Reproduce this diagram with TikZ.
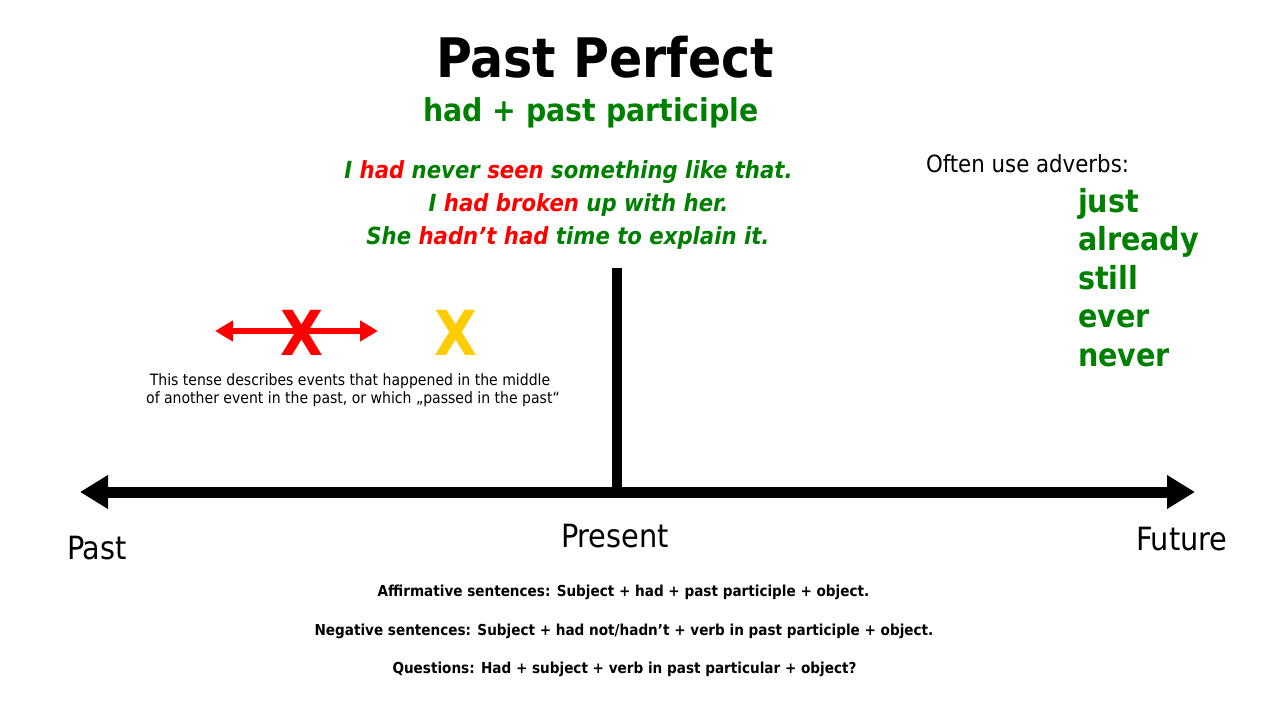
\documentclass[tikz,border=0pt]{standalone}
\usepackage{fontspec}
\setmainfont{DejaVu Sans}
\newfontfamily\cond{DejaVu Sans Condensed}
\usetikzlibrary{arrows.meta}
\definecolor{ppgreen}{RGB}{0,128,0}
\definecolor{ppred}{RGB}{255,0,0}
\definecolor{ppyellow}{RGB}{255,204,0}
\newcommand{\fsz}[1]{\fontsize{#1}{#1}\selectfont}
\tikzset{
  txt/.style={inner sep=0pt, outer sep=0pt, anchor=base},
  txtl/.style={inner sep=0pt, outer sep=0pt, anchor=base west},
  ex/.style={txt, font=\cond\bfseries\itshape\fsz{23.6}, text=ppgreen},
  adv/.style={txtl, font=\cond\bfseries\fsz{31.8}, text=ppgreen},
  bottomline/.style={txt, font=\cond\bfseries\fsz{15.1}},
  desc/.style={txt, font=\cond\fsz{15.6}},
  axislabel/.style={font=\cond\fsz{32}},
  timeline/.style={line width=11pt, -{Triangle[length=28pt,width=32pt]}},
  rangearrow/.style={line width=6pt, ppred, {Triangle[length=18pt,width=20pt]}-{Triangle[length=18pt,width=20pt]}},
  xmark/.style={txt, font=\cond\bfseries\fsz{62}},
}
\begin{document}
\begin{tikzpicture}[x=1pt,y=-1pt]
\useasboundingbox (0,0) rectangle (1280,720);
\fill[white] (0,0) rectangle (1280,720);

% title
\node[txt, font=\cond\bfseries\fsz{54.5}] (title) at (605,77) {Past Perfect};
\node[txt, font=\cond\bfseries\fsz{31.5}, text=ppgreen] (formula) at (591,121) {had + past participle};

% examples
\node[ex] (ex1) at (568.5,178) {I \textcolor{ppred}{had} never \textcolor{ppred}{seen} something like that.};
\node[ex] (ex2) at (578.5,211) {I \textcolor{ppred}{had broken} up with her.};
\node[ex] (ex3) at (568,244) {She \textcolor{ppred}{hadn’t had} time to explain it.};

% adverbs
\node[txtl, font=\cond\fsz{23.7}] (often) at (926,172) {Often use adverbs:};
\node[adv] (just) at (1078,212) {just};
\node[adv] (already) at (1078,250) {already};
\node[adv] (still) at (1078,289) {still};
\node[adv] (ever) at (1078,327) {ever};
\node[adv] (never) at (1078,366) {never};

% timeline
\coordinate (mid) at (617,492);
\coordinate (pastend) at (80,492);
\coordinate (futend) at (1195,492);
\coordinate (ptop) at (617,268);
\draw[timeline] (mid) -- (pastend);
\draw[timeline] (mid) -- (futend);
\draw[line width=10pt] (ptop) -- (mid);

\node[txtl, axislabel] (past) at (67,559) {Past};
\node[txt, axislabel] (present) at (615,547) {Present};
\node[txtl, axislabel] (future) at (1136,550) {Future};

% event marks
\coordinate (ra) at (215,331);
\coordinate (rb) at (378,331);
\draw[rangearrow] (ra) -- (rb);
\node[xmark, text=ppred] (xred) at (302.5,355) {X};
\node[xmark, text=ppyellow] (xyellow) at (456,355) {X};

\node[desc] (desc1) at (350,385) {This tense describes events that happened in the middle};
\node[desc] (desc2) at (353,403) {of another event in the past, or which „passed in the past“};

% bottom rules
\node[bottomline] (aff) at (623.5,596) {Affirmative sentences: Subject + had + past participle + object.};
\node[bottomline] (neg) at (624,635) {Negative sentences: Subject + had not/hadn’t + verb in past participle + object.};
\node[bottomline] (que) at (624.5,673) {Questions: Had + subject + verb in past particular + object?};
\end{tikzpicture}
\end{document}
